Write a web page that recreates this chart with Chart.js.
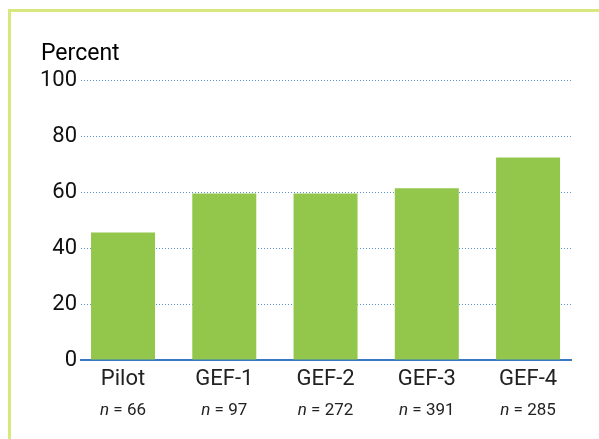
<!DOCTYPE html>
<html>
<head>
<meta charset="utf-8">
<script src="https://cdn.jsdelivr.net/npm/chart.js@4"></script>
<style>
  html, body { margin: 0; padding: 0; background: #fff; }
  #wrap { position: relative; width: 599px; height: 439px; overflow: hidden; }
  #frame { position: absolute; left: 8px; top: 9px; width: 700px; height: 600px;
           border-top: 3px solid #d8e77e; border-left: 3px solid #d8e77e; }
  canvas { position: absolute; left: 0; top: 0; }
</style>
</head>
<body>
<div id="wrap">
  <div id="frame"></div>
  <canvas id="chart" width="599" height="439"></canvas>
</div>
<script>
const categories = ['Pilot', 'GEF-1', 'GEF-2', 'GEF-3', 'GEF-4'];
const percents = [45.5, 59.5, 59.5, 61.3, 72.3];
const sampleSizes = [66, 97, 272, 391, 285];
const yTicks = [0, 20, 40, 60, 80, 100];

const fontFamily = 'Roboto, "DejaVu Sans", sans-serif';

// draws the "Percent" heading and the n = ... line under each category
const extraText = {
    id: 'extraText',
    afterDraw(chart) {
        const ctx = chart.ctx;
        const xScale = chart.scales.x;
        ctx.save();
        ctx.fillStyle = '#000';
        ctx.font = '23px ' + fontFamily;
        ctx.textAlign = 'left';
        ctx.textBaseline = 'alphabetic';
        ctx.fillText('Percent', 41, 60);

        ctx.fillStyle = '#222';
        categories.forEach((c, i) => {
            const cx = xScale.getPixelForValue(i);
            const rest = ' = ' + sampleSizes[i];
            ctx.font = 'italic 17px ' + fontFamily;
            const wN = ctx.measureText('n').width;
            ctx.font = '17px ' + fontFamily;
            const wRest = ctx.measureText(rest).width;
            const start = cx - (wN + wRest) / 2;
            ctx.font = 'italic 17px ' + fontFamily;
            ctx.fillText('n', start, 415);
            ctx.font = '17px ' + fontFamily;
            ctx.fillText(rest, start + wN, 415);
        });
        ctx.restore();
    }
};

new Chart(document.getElementById('chart'), {
    type: 'bar',
    data: {
        datasets: [{
            data: percents.map((v, i) => ({ x: i, y: v })),
            backgroundColor: '#92c74b',
            borderWidth: 0,
            barPercentage: 0.632,
            categoryPercentage: 1
        }]
    },
    options: {
        responsive: false,
        animation: false,
        events: [],
        layout: { padding: { top: 80, right: 28, left: 0, bottom: 0 } },
        plugins: { legend: { display: false }, tooltip: { enabled: false } },
        scales: {
            x: {
                type: 'linear',
                offset: false,
                min: -0.415,
                max: 4.424,
                afterBuildTicks: (scale) => {
                    scale.ticks = categories.map((c, i) => ({ value: i }));
                },
                afterFit: (scale) => { scale.height = 79; },
                grid: { display: false, drawTicks: false, offset: false },
                border: { display: true, color: '#3a78c2', width: 2 },
                ticks: {
                    autoSkip: false,
                    maxRotation: 0,
                    padding: 6,
                    color: '#222',
                    font: { family: fontFamily, size: 22 },
                    callback: (v) => categories[v]
                }
            },
            y: {
                min: 0,
                max: 100,
                afterBuildTicks: (scale) => {
                    scale.ticks = yTicks.map(v => ({ value: v }));
                },
                afterFit: (scale) => { scale.width = 81; },
                grid: { color: '#5b8fcf', lineWidth: 1, drawTicks: false },
                border: { display: false, dash: [1, 2] },
                ticks: {
                    padding: 4,
                    color: '#111',
                    font: { family: fontFamily, size: 22 }
                }
            }
        }
    },
    plugins: [extraText]
});
</script>
</body>
</html>
